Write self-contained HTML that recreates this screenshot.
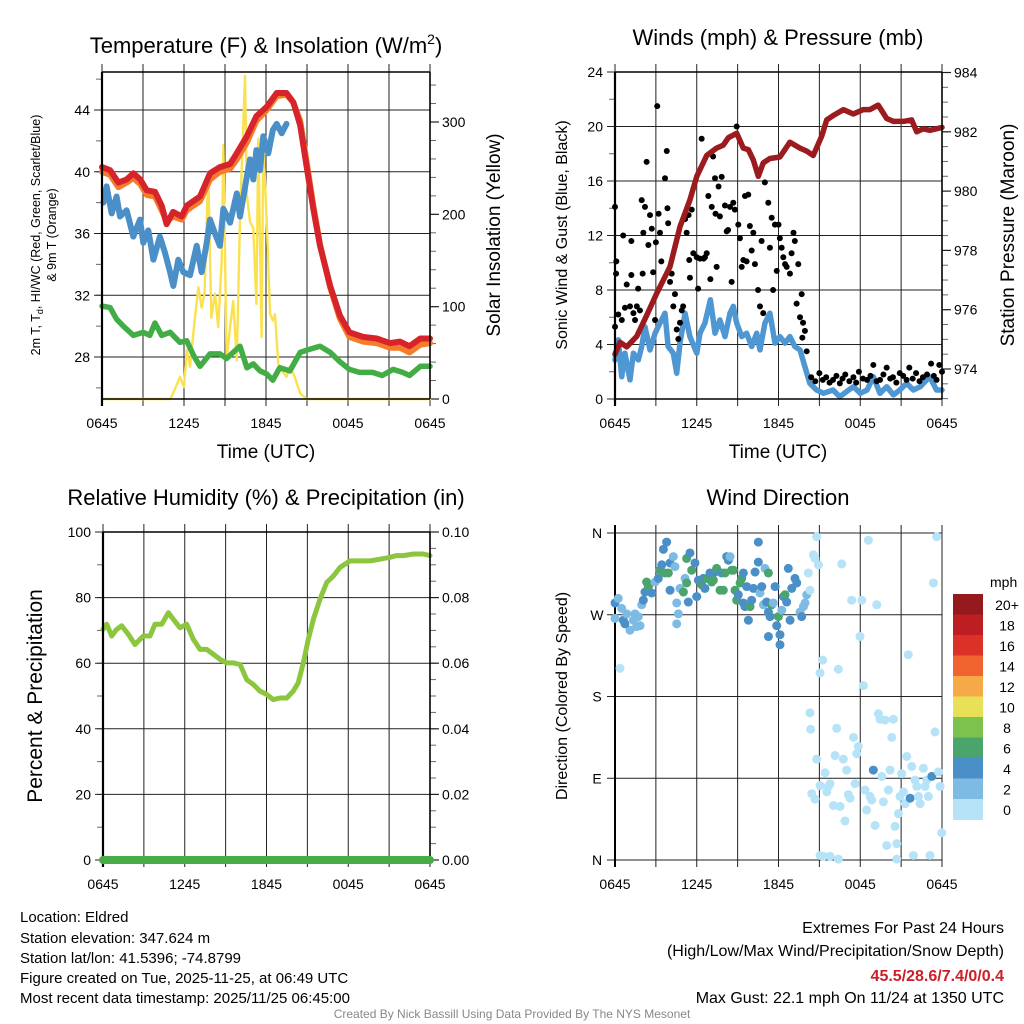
<!DOCTYPE html>
<html><head><meta charset="utf-8">
<style>
html,body{margin:0;padding:0;background:#fff;}
svg{display:block;font-family:"Liberation Sans",Arial,sans-serif;}
</style></head>
<body>
<svg id="fig" width="1024" height="1024" viewBox="0 0 1024 1024" xmlns="http://www.w3.org/2000/svg">
<rect width="1024" height="1024" fill="#fff"/>
<text x="266" y="53" font-size="22" text-anchor="middle">Temperature (F) &amp; Insolation (W/m<tspan dy="-9" font-size="14">2</tspan><tspan dy="9">)</tspan></text>
<text x="778" y="45" font-size="22" text-anchor="middle">Winds (mph) &amp; Pressure (mb)</text>
<text x="266" y="505" font-size="22" text-anchor="middle">Relative Humidity (%) &amp; Precipitation (in)</text>
<text x="778" y="505" font-size="22" text-anchor="middle">Wind Direction</text>

<text x="266" y="458" font-size="19" text-anchor="middle">Time (UTC)</text>
<text x="778" y="458" font-size="19" text-anchor="middle">Time (UTC)</text>

<text transform="translate(40,235) rotate(-90)" font-size="12.5" text-anchor="middle">2m T, T<tspan font-size="9" dy="3">d</tspan><tspan dy="-3">, HI/WC (Red, Green, Scarlet/Blue)</tspan></text>
<text transform="translate(56,235) rotate(-90)" font-size="12.5" text-anchor="middle">&amp; 9m T (Orange)</text>
<text transform="translate(500,235) rotate(-90)" font-size="19" text-anchor="middle">Solar Insolation (Yellow)</text>
<text transform="translate(567,235) rotate(-90)" font-size="16" text-anchor="middle">Sonic Wind &amp; Gust (Blue, Black)</text>
<text transform="translate(1014,235) rotate(-90)" font-size="19" text-anchor="middle">Station Pressure (Maroon)</text>
<text transform="translate(42,696) rotate(-90)" font-size="21" text-anchor="middle">Percent &amp; Precipitation</text>
<text transform="translate(567,696) rotate(-90)" font-size="16" text-anchor="middle">Direction (Colored By Speed)</text>

<g font-size="15">
<text x="20" y="922">Location: Eldred</text>
<text x="20" y="943">Station elevation: 347.624 m</text>
<text x="20" y="963">Station lat/lon: 41.5396; -74.8799</text>
<text x="20" y="983">Figure created on Tue, 2025-11-25, at 06:49 UTC</text>
<text x="20" y="1003">Most recent data timestamp: 2025/11/25 06:45:00</text>
</g>
<g font-size="16" text-anchor="end">
<text x="1004" y="933">Extremes For Past 24 Hours</text>
<text x="1004" y="956">(High/Low/Max Wind/Precipitation/Snow Depth)</text>
<text x="1004" y="981" fill="#cc1f27" font-weight="bold">45.5/28.6/7.4/0/0.4</text>
<text x="1004" y="1003">Max Gust: 22.1 mph On 11/24 at 1350 UTC</text>
</g>
<text x="512" y="1018" font-size="12" fill="#888" text-anchor="middle">Created By Nick Bassill Using Data Provided By The NYS Mesonet</text>
</svg>
<script>
// ---------- Temperature panel data ----------
const tempT = [0,0.59,1.2,1.8,2.3,2.8,3.27,3.88,4.37,4.73,5.2,5.83,6.2,7.17,7.9,8.63,9.37,9.86,10.6,11.3,12.05,12.78,13.5,14.0,14.5,14.98,15.46,15.95,16.7,17.4,18.1,19.1,20.1,21.07,21.8,22.5,23.3,24];
const tempRed = [40.3,40.1,39.3,39.5,39.9,39.5,38.8,38.7,37.8,36.6,37.4,37.1,37.8,38.4,39.9,40.3,40.5,41.2,42.3,43.6,44.2,45.1,45.1,44.5,43.0,40.3,37.6,35.2,32.6,30.7,29.6,29.3,29.2,28.9,29.0,28.7,29.2,29.2];
const tempOrange = [40.0,39.8,39.0,39.3,39.6,39.2,38.5,38.4,37.5,36.8,37.1,36.9,37.5,38.1,39.5,40.0,40.2,40.8,41.9,43.3,44.0,44.9,45.0,44.5,43.3,40.6,37.8,35.3,32.5,30.5,29.3,29.0,28.9,28.6,28.6,28.3,28.8,28.9];
const wcT = [0.1,0.34,0.71,1.07,1.32,1.8,2.29,2.78,3.02,3.39,3.76,4.24,4.61,4.98,5.22,5.58,5.95,6.44,6.93,7.29,7.66,7.9,8.27,8.63,8.88,9.37,9.86,10.1,10.6,10.83,11.07,11.3,11.56,11.8,12.17,12.5,12.78,13.15,13.5];
const wcV = [38.0,39.05,37.3,38.4,37.1,37.5,35.8,36.9,35.4,36.2,34.3,35.8,34.75,33.5,32.6,34.3,33.5,33.3,35.2,33.5,35.4,36.9,36.0,35.2,37.6,36.7,38.6,37.1,39.7,40.8,39.5,41.4,40.1,42.3,41.2,42.7,43.1,42.5,43.1];
const dewT = [0,0.59,1.07,1.56,2.29,3.02,3.5,3.88,4.37,4.98,5.7,6.2,6.7,7.17,7.9,8.63,9.12,9.6,10.1,10.6,11.07,11.56,12.05,12.5,13.0,13.75,14.5,15.2,15.95,16.7,17.4,18.1,18.85,19.8,20.5,21.3,22.0,22.5,23.3,24];
const dewV = [31.3,31.2,30.45,30.0,29.4,29.6,29.4,30.2,29.4,29.6,28.95,29.05,28.1,27.4,28.2,28.2,27.9,28.3,28.7,27.3,27.55,27.1,26.9,26.5,27.3,27.1,28.3,28.5,28.7,28.3,27.7,27.2,27.0,27.0,26.8,27.2,27.0,26.8,27.4,27.4];
const solarT = [0,5.0,5.35,5.7,6.0,6.2,6.44,6.8,7.05,7.29,7.5,7.78,8.0,8.27,8.5,8.76,8.88,9.12,9.37,9.6,9.86,10.1,10.46,10.6,10.83,11.07,11.3,11.44,11.68,11.8,12.05,12.3,12.5,12.66,12.9,13.15,13.5,13.75,14.1,14.5,15.0,24];
const solarV = [0,0,11,24,13,53,35,88,121,99,114,246,88,114,78,150,275,42,78,106,42,196,350,221,192,185,103,282,67,278,192,92,85,92,38,31,24,35,24,6,0,0];
const tempTicks = [28,32,36,40,44];
const solarTicks = [0,100,200,300];
const timeLabels = ["0645","1245","1845","0045","0645"];

// ---------- Wind panel data ----------
const presT = [0,0.37,0.86,1.59,2.32,3.06,4.04,4.77,5.5,6.0,6.73,7.46,7.95,8.32,8.93,9.42,9.78,10.15,10.52,10.88,11.37,12.1,12.84,13.58,14.07,14.55,15.17,15.54,16.02,16.76,17.49,18.22,18.71,19.32,19.94,20.43,21.16,21.77,22.14,22.63,23.12,24];
const presV = [974.5,974.9,974.75,975.1,975.8,976.55,977.45,978.8,979.7,980.5,981.2,981.45,981.55,981.8,981.95,981.45,981.4,981.05,980.5,980.95,981.1,981.15,981.65,981.45,981.35,981.2,981.85,982.4,982.55,982.75,982.6,982.75,982.75,982.9,982.45,982.35,982.35,982.4,982.0,982.1,982.05,982.15];
const sonicT = [0,0.24,0.49,0.73,1.1,1.35,1.71,1.96,2.2,2.57,2.94,3.3,3.67,3.9,4.28,4.53,4.77,5.14,5.5,6.0,6.24,6.6,7.0,7.34,7.7,8.07,8.44,8.68,8.93,9.3,9.66,10.03,10.4,10.64,11.0,11.37,11.74,12.1,12.48,12.84,13.2,13.58,13.94,14.3,14.8,15.3,16.0,16.5,17.0,17.5,18.0,18.5,18.96,19.45,19.94,20.43,20.9,21.4,21.9,22.4,23.1,23.6,24];
const sonicV = [2.87,4.34,1.64,3.36,1.4,3.36,2.87,3.85,5.3,3.6,4.83,5.57,6.3,3.85,3.36,1.89,4.1,6.3,4.58,3.36,4.83,5.57,7.28,4.83,5.8,4.58,6.3,6.8,5.57,4.58,4.83,3.85,4.83,3.6,5.57,6.3,4.1,4.58,4.1,4.58,3.85,3.6,2.37,1.15,0.66,0.42,0.66,0.17,0.54,0.9,0.42,0.66,1.64,0.42,0.9,0.3,0.66,1.15,0.66,0.9,1.64,0.66,0.66];
const gustT = [0,0.1,0.08,0,0.24,0.5,0.6,0.73,0.86,1.1,1.2,1.2,1.35,1.47,1.6,1.7,1.83,1.96,2.08,2.03,2.2,2.32,2.45,2.57,2.7,2.8,2.94,3.0,3.1,3.2,3.3,3.4,3.67,3.8,3.85,3.9,4.04,4.16,4.4,4.28,4.53,4.65,4.77,4.9,5.0,5.14,5.26,5.4,5.63,5.5,5.45,5.75,6.0,6.1,6.24,6.36,6.5,6.6,6.73,6.85,7.0,7.2,7.34,7.46,7.6,7.1,7.38,7.7,7.83,8.07,8.2,8.3,8.44,8.56,8.68,8.8,8.93,9.05,9.17,9.3,9.42,9.54,9.66,9.78,9.9,10.03,10.15,10.27,10.5,10.64,10.76,10.88,11.0,11.25,11.37,11.5,11.6,11.74,11.87,12.0,12.1,12.23,12.35,12.48,12.6,12.84,12.96,13.1,13.2,13.33,13.45,13.58,13.7,13.8,13.94,14.07,13.75,14.4,14.7,15.0,15.25,15.5,15.75,16.0,16.25,16.5,16.7,16.9,17.2,17.5,17.7,17.9,18.2,18.5,18.75,18.96,19.2,19.45,19.7,19.94,20.2,20.4,20.65,20.9,21.15,21.4,21.6,21.85,22.1,22.35,22.6,22.9,23.2,23.4,23.6,23.8,24];
const gustV = [14.1,10.1,9.2,5.3,6.2,5.8,12.0,6.7,8.4,6.8,11.6,9.1,6.3,5.8,6.8,8.1,6.5,14.6,12.2,9.2,14.1,17.4,11.3,13.5,12.5,9.3,5.8,11.5,21.5,13.6,12.2,10.1,16.2,18.2,14.0,12.9,8.6,9.2,7.7,6.8,5.1,4.4,5.6,6.5,6.8,13.2,12.2,13.5,13.9,8.9,10.2,10.7,10.4,8.1,10.3,19.1,10.3,10.4,10.7,14.9,8.8,17.8,16.2,9.7,15.6,14.1,13.6,13.4,16.3,14.2,12.3,12.4,14.1,8.6,14.4,13.9,20.0,12.8,11.8,9.7,10.2,14.9,10.1,15.0,12.7,10.9,12.2,9.9,8.0,6.8,11.6,6.3,15.9,14.4,11.1,13.3,8.0,12.8,9.4,12.8,11.8,11.1,10.4,9.9,9.7,9.2,10.7,12.2,11.6,7.0,9.9,6.0,7.7,5.6,5.0,3.5,4.5,1.6,1.3,1.9,1.4,1.6,1.2,1.4,1.7,1.15,1.5,1.8,1.3,1.6,1.2,2.0,1.5,1.4,1.7,2.5,1.3,1.4,1.8,2.3,1.5,1.6,1.2,1.9,1.7,1.4,2.3,1.5,1.9,1.3,1.6,1.8,2.6,1.7,1.4,2.5,2.0];
const windTicks = [0,4,8,12,16,20,24];
const presTicks = [974,976,978,980,982,984];

// ---------- RH panel data ----------
const rhT = [0,0.27,0.64,1.0,1.37,1.86,2.35,2.96,3.45,3.82,4.31,4.8,5.16,5.65,6.14,6.63,7.12,7.61,8.1,8.59,9.08,9.57,10.06,10.55,11.03,11.52,12.01,12.5,12.99,13.48,13.97,14.33,14.7,15.07,15.44,15.93,16.42,16.91,17.4,18.13,18.86,19.6,20.33,21.06,21.55,22.04,22.78,23.5,24];
const rhV = [70.3,71.9,68.3,70.3,71.4,68.8,65.7,68.3,68.3,71.9,71.9,75.4,73.4,70.8,71.9,67.3,64.2,64.2,62.7,61.2,60.1,60.1,59.6,55.0,53.5,51.5,50.5,48.9,49.4,49.4,51.5,54.0,60.1,67.3,73.4,79.5,84.6,86.6,89.2,91.2,91.2,91.2,91.7,92.3,92.8,92.8,93.3,93.3,92.8];
const precipT = [0,24];
const precipV = [0,0];
const rhTicks = [0,20,40,60,80,100];
const precipTicks = ["0.00","0.02","0.04","0.06","0.08","0.10"];

// ---------- Wind direction panel data ----------
const dirT = [0,0,0.24,0.49,0.61,0.86,1.1,1.35,1.47,1.59,1.71,1.84,0.37,0.73,1.96,2.08,2.2,2.32,2.45,2.69,2.94,3.18,3.3,3.43,3.55,3.79,3.67,3.92,4.04,4.04,4.28,4.4,4.53,4.53,4.65,4.77,5.02,5.14,5.26,5.38,5.26,5.5,5.63,5.87,6.0,6.12,6.36,6.48,6.6,6.73,6.97,7.1,7.22,7.34,7.46,7.71,7.83,7.95,8.08,8.2,8.32,8.44,8.56,8.69,8.81,8.93,9.05,9.18,9.3,9.42,9.42,9.54,9.67,9.79,9.91,10.03,10.16,10.28,10.52,10.52,10.64,10.77,10.89,11.01,11.13,11.26,11.26,11.38,11.5,11.62,11.75,11.87,11.99,12.11,12.11,12.24,12.36,12.48,12.6,12.72,12.85,12.97,13.21,13.34,13.58,13.7,13.83,13.95,14.07,14.19,14.31,14.56,14.68,14.93,14.8,11.26,
14.31,14.36,14.8,15.05,15.24,15.42,15.05,15.66,15.78,15.54,14.44,14.68,16.03,16.15,16.27,16.39,16.52,16.64,16.76,16.88,17.0,17.13,17.25,17.37,17.5,17.62,17.74,17.86,17.98,18.11,18.23,18.35,18.47,18.6,18.72,18.84,18.96,19.09,19.21,19.33,19.45,19.58,19.7,19.82,19.94,20.07,20.19,20.31,20.43,20.55,20.68,20.8,20.92,21.04,21.17,21.29,21.41,21.53,21.66,21.78,21.9,22.02,22.15,22.27,22.39,22.63,22.76,22.88,23.0,23.12,23.25,23.37,23.49,23.61,23.74,23.86,23.98,15.05,15.29,15.78,16.39,20.68];
const dirDeg = [266,283,288,277,264,271,253,264,271,257,268,258,211,260,281,286,295,306,301,294,306,310,319,325,342,350,316,316,327,297,334,323,283,260,271,299,295,310,305,284,332,338,319,327,290,308,303,310,299,310,316,306,308,317,321,297,316,297,316,334,330,334,319,319,297,286,292,305,310,316,283,279,301,264,279,286,299,317,350,328,294,301,281,321,284,273,316,268,281,283,301,258,268,248,237,275,290,292,284,321,264,299,310,305,273,268,279,283,292,316,297,336,332,325,356,246,
162,144,111,206,220,96,82,81,84,75,73,67,60,115,145,210,59,326,111,43,99,72,68,286,135,84,117,125,246,286,192,77,55,352,70,66,99,38,281,161,155,92,64,154,16,77,99,135,155,37,18,51,70,95,75,62,114,226,68,103,5,88,81,70,62,101,81,88,70,5,92,305,141,356,97,81,30,5,4,4,1,1];
const dirSpd = [2.5,4.5,2.5,2.5,4.5,2.5,2.5,2.5,2.5,2.5,2.5,2.5,0.5,4.5,2.5,4.5,4.5,6.5,6.5,4.5,2.5,4.5,6.5,4.5,4.5,4.5,6.5,6.5,4.5,4.5,2.5,2.5,2.5,2.5,2.5,2.5,6.5,2.5,6.5,4.5,6.5,4.5,6.5,4.5,4.5,4.5,6.5,4.5,4.5,6.5,4.5,6.5,6.5,4.5,6.5,6.5,4.5,6.5,6.5,4.5,4.5,2.5,6.5,6.5,6.5,6.5,4.5,6.5,6.5,4.5,4.5,4.5,4.5,4.5,6.5,4.5,4.5,4.5,4.5,4.5,2.5,4.5,2.5,2.5,4.5,4.5,6.5,4.5,6.5,2.5,4.5,4.5,6.5,4.5,4.5,2.5,4.5,6.5,4.5,4.5,4.5,4.5,4.5,4.5,2.5,4.5,2.5,2.5,2.5,0.5,0.5,0.5,0.5,0.5,0.5,4.5,
0.5,0.5,0.5,0.5,0.5,0.5,0.5,0.5,0.5,0.5,0.5,0.5,0.5,0.5,0.5,0.5,0.5,0.5,0.5,0.5,0.5,0.5,0.5,0.5,0.5,0.5,0.5,0.5,0.5,0.5,0.5,0.5,0.5,0.5,0.5,0.5,4.5,0.5,0.5,0.5,0.5,0.5,0.5,0.5,0.5,0.5,0.5,0.5,0.5,0.5,0.5,0.5,0.5,0.5,0.5,0.5,0.5,0.5,4.5,0.5,0.5,0.5,0.5,0.5,0.5,0.5,0.5,0.5,0.5,0.5,4.5,0.5,0.5,0.5,0.5,0.5,0.5,0.5,0.5,0.5,0.5,0.5];
const dirTickLabels = ["N","E","S","W","N"];
const dirTicks = [0,90,180,270,360];
const cbarLabels = ["0","2","4","6","8","10","12","14","16","18","20+"];
const cbarColors = ["#b6e3f7","#7dbbe4","#4a8fc7","#4ba46c","#7cc24c","#e8e158","#f6a947","#f0622e","#dc3127","#bd1e24","#951a1d"];

// ---------- drawing ----------
const NS = "http://www.w3.org/2000/svg";
const svg = document.getElementById("fig");
function mk(tag, attrs, parent){
  const e = document.createElementNS(NS, tag);
  for (const k in attrs) e.setAttribute(k, attrs[k]);
  (parent||svg).appendChild(e);
  return e;
}
function timeScale(x0,x1){ return t => x0 + t/24*(x1-x0); }
function linScale(d0,d1,r0,r1){ return v => r0 + (v-d0)/(d1-d0)*(r1-r0); }
function pathD(xs, ys, fx, fy){
  let d = "";
  for (let i=0;i<xs.length;i++) d += (i?"L":"M") + fx(xs[i]).toFixed(1) + "," + fy(ys[i]).toFixed(1);
  return d;
}

function frame(name, x0,x1,top,bot){
  const g = mk("g",{});
  
  
  const fx = timeScale(x0,x1);
  for (let h=0; h<=24; h+=3){
    const l = mk("line",{x1:fx(h),x2:fx(h),y1:top-8,y2:bot+7,stroke:"#222","stroke-width":1},g);
    
    
  }
  for (let i=0;i<timeLabels.length;i++){
    const tx = mk("text",{x:fx(i*6),y:bot+29,"font-size":14,"text-anchor":"middle"},g);
    tx.textContent = timeLabels[i];
    
    
  }
  return {g, fx};
}
function leftAxis(g,name,x0,x1,ticks,fy,minor,labels){
  for (const v of minor){ mk("line",{x1:x0-6,x2:x0,y1:fy(v),y2:fy(v),stroke:"#666","stroke-width":1},g); }
  ticks.forEach((v,i)=>{
    const gl = mk("line",{x1:x0-8,x2:x1,y1:fy(v),y2:fy(v),stroke:"#222","stroke-width":1},g);
    
    
    const t = mk("text",{x:x0-12,y:fy(v)+5,"font-size":14,"text-anchor":"end"},g);
    t.textContent = labels ? labels[i] : v;
    
    
  });
}
function rightAxis(g,name,x1,ticks,fy,minor,labels){
  for (const v of minor){ mk("line",{x1:x1,x2:x1+6,y1:fy(v),y2:fy(v),stroke:"#666","stroke-width":1},g); }
  ticks.forEach((v,i)=>{
    mk("line",{x1:x1,x2:x1+9,y1:fy(v),y2:fy(v),stroke:"#222","stroke-width":1.2},g);
    const t = mk("text",{x:x1+12,y:fy(v)+5,"font-size":14},g);
    t.textContent = labels ? labels[i] : v;
    
    
  });
}
function box(g,x0,x1,top,bot){
  mk("line",{x1:x0,x2:x0,y1:top,y2:bot+7,stroke:"#000","stroke-width":2.2},g);
  mk("line",{x1:x1,x2:x1,y1:top,y2:bot,stroke:"#000","stroke-width":1.6},g);
  mk("line",{x1:x0,x2:x1,y1:top,y2:top,stroke:"#000","stroke-width":1.5},g);
  mk("line",{x1:x0,x2:x1,y1:bot,y2:bot,stroke:"#000","stroke-width":1.5},g);
}
function series(g,name,xs,ys,fx,fy,color,w){
  const p = mk("path",{d:pathD(xs,ys,fx,fy),fill:"none",stroke:color,"stroke-width":w,"stroke-linejoin":"round","stroke-linecap":"round"},g);
  
  
  return p;
}
function range(a,b,s){ const r=[]; for(let v=a; v<=b+1e-9; v+=s) r.push(+v.toFixed(4)); return r; }

// Panel 1: temperature
(function(){
  const X0=102,X1=430,T=72,B=399;
  const {g,fx} = frame("temp",X0,X1,T,B);
  const fy = linScale(28,44,357,110);
  const fs = linScale(0,300,399,122);
  leftAxis(g,"temp",X0,X1,tempTicks,fy,range(26,46,2));
  rightAxis(g,"solar",X1,solarTicks,fs,range(0,340,20));
  series(g,"solar-insolation-line",solarT,solarV,fx,fs,"#fbe14f",2.4);
  series(g,"dewpoint-line",dewT,dewV,fx,fy,"#42ad45",5.5);
  series(g,"wind-chill-line",wcT,wcV,fx,fy,"#4a8fc7",6);
  series(g,"temp-9m-line",tempT,tempOrange,fx,fy,"#f47c2b",6);
  series(g,"temp-2m-line",tempT,tempRed,fx,fy,"#d6242a",6);
  box(g,X0,X1,T,B);
})();

// Panel 2: winds
(function(){
  const X0=615,X1=942,T=72,B=399;
  const {g,fx} = frame("wind",X0,X1,T,B);
  const fy = linScale(0,24,399,72);
  const fp = linScale(974,984,369,72.5);
  leftAxis(g,"wind",X0,X1,windTicks,fy,range(0,24,2));
  rightAxis(g,"pressure",X1,presTicks,fp,range(973,984,0.5));
  series(g,"sonic-wind-line",sonicT,sonicV,fx,fy,"#4f97d3",5.5);
  gustT.forEach((t,i)=>{
    const c = mk("circle",{cx:fx(t),cy:fy(gustV[i]),r:3,fill:"#000"},g);
    
    
  });
  series(g,"pressure-line",presT,presV,fx,fp,"#9b1b1e",5.5);
  box(g,X0,X1,T,B);
})();

// Panel 3: RH
(function(){
  const X0=103,X1=430,T=532,B=860;
  const {g,fx} = frame("rh",X0,X1,T,B);
  const fy = linScale(0,100,860,532);
  const fp = linScale(0,0.1,860,532);
  leftAxis(g,"rh",X0,X1,rhTicks,fy,range(0,100,10));
  rightAxis(g,"precip",X1,precipTicks.map(Number),fp,range(0,0.1,0.005),precipTicks);
  series(g,"rh-line",rhT,rhV,fx,fy,"#8cc63f",5);
  box(g,X0,X1,T,B);
  series(g,"precip-line",precipT,precipV,fx,fp,"#46ad46",8);
})();

// Panel 4: wind direction
(function(){
  const X0=615,X1=942,T=533,B=860;
  const {g,fx} = frame("wdir",X0,X1,T,B);
  const fy = linScale(0,360,860,533);
  dirTicks.forEach((v,i)=>{
    const gl = mk("line",{x1:X0-8,x2:X1,y1:fy(v),y2:fy(v),stroke:"#222","stroke-width":1},g);
    
    
    const t = mk("text",{x:X0-18,y:fy(v)+5,"font-size":14,"text-anchor":"middle"},g);
    t.textContent = dirTickLabels[i];
    
    
  });
  mk("line",{x1:X0,x2:X0,y1:T-8,y2:B+7,stroke:"#000","stroke-width":2},g);
  dirT.forEach((t,i)=>{
    const bin = Math.min(10, Math.floor(dirSpd[i]/2));
    const c = mk("circle",{cx:fx(t),cy:fy(dirDeg[i]),r:4.5,fill:cbarColors[bin]},g);
    
    
  });
  // colorbar
  const cb = mk("g",{});
  
  
  const cx=953, cw=30, ctop=594, ch=20.5;
  const ttl = mk("text",{x:990,y:587,"font-size":14},cb);
  ttl.textContent = "mph";
  
  
  for (let i=0;i<cbarColors.length;i++){
    const k = cbarColors.length-1-i;
    const r = mk("rect",{x:cx,y:ctop+i*ch,width:cw,height:ch+0.5,fill:cbarColors[k]},cb);
    
    
    const t = mk("text",{x:1007,y:ctop+i*ch+16,"font-size":14,"text-anchor":"middle"},cb);
    t.textContent = cbarLabels[k];
    
    
  }
})();
</script>
</body></html>
